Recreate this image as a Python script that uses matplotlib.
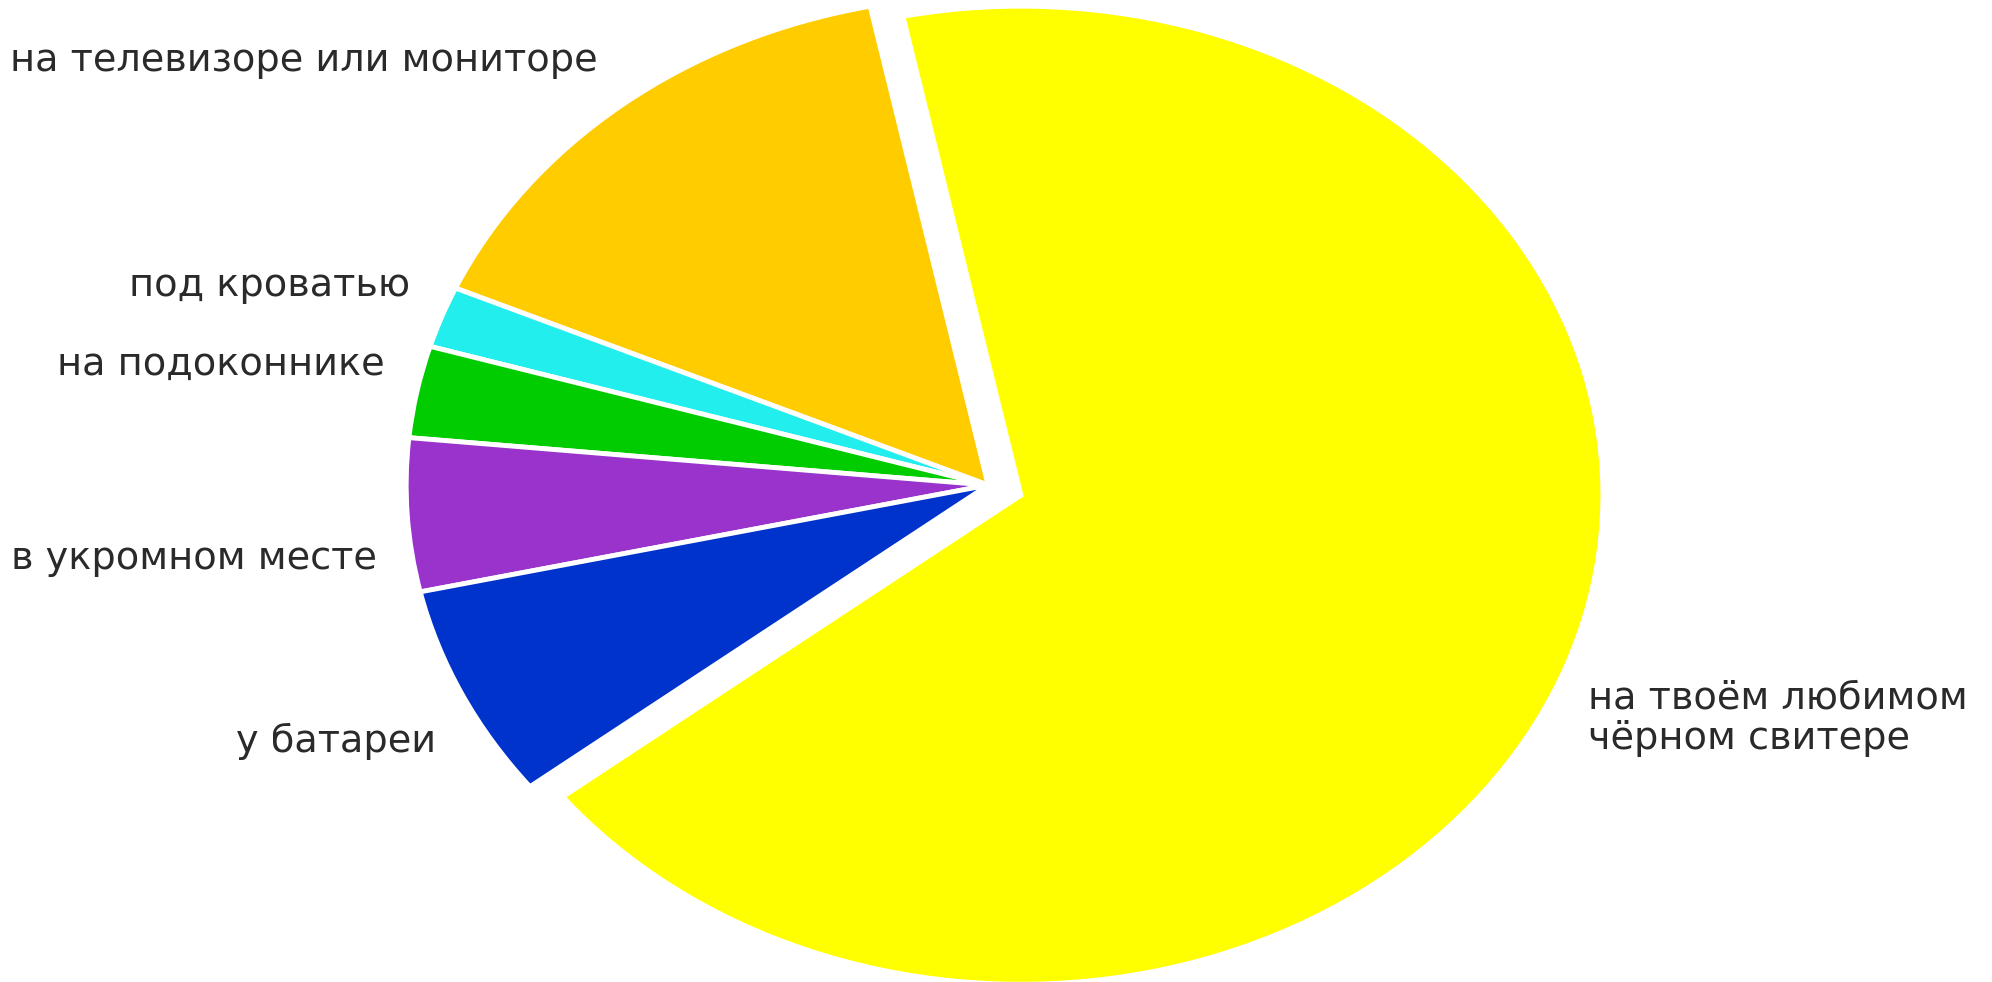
import matplotlib
matplotlib.use('Agg')
import matplotlib.pyplot as plt

# poll results: where the cat hair ends up
labels = ['на телевизоре или мониторе', 'под кроватью', 'на подоконнике',
          'в укромном месте', 'у батареи', 'на твоём любимом\nчёрном свитере']
shares = [15, 2, 3, 5, 7, 67]
colors = ['#ffcc00', '#22eeee', '#00cc00', '#9933cc', '#0033cc', '#ffff00']
explode = [0, 0, 0, 0, 0, 0.06]

# caption anchors in figure fractions (x, y, ha)
label_pos = [(0.300, 0.938, 'right'),
             (0.206, 0.709, 'right'),
             (0.193, 0.628, 'right'),
             (0.189, 0.431, 'right'),
             (0.219, 0.245, 'right'),
             (0.797, 0.268, 'left')]

fig = plt.figure(figsize=(19.92, 9.82), dpi=100)
ax = fig.add_axes([0, 0, 1, 1])
ax.pie(shares, colors=colors, explode=explode, startangle=101.7,
       wedgeprops=dict(edgecolor='white', linewidth=3.5))
# the original pie is stretched sideways
ax.set_aspect('auto')
ax.set_xlim(-1.698, 1.725)
ax.set_ylim(-1.016, 0.992)
ax.axis('off')

for text, (x, y, ha) in zip(labels, label_pos):
    fig.text(x, y, text, ha=ha, va='center', fontsize=27.5, color='#2a2a2a',
             family='DejaVu Sans', linespacing=1.15)

fig.savefig('out.png', dpi=100, facecolor='white')
